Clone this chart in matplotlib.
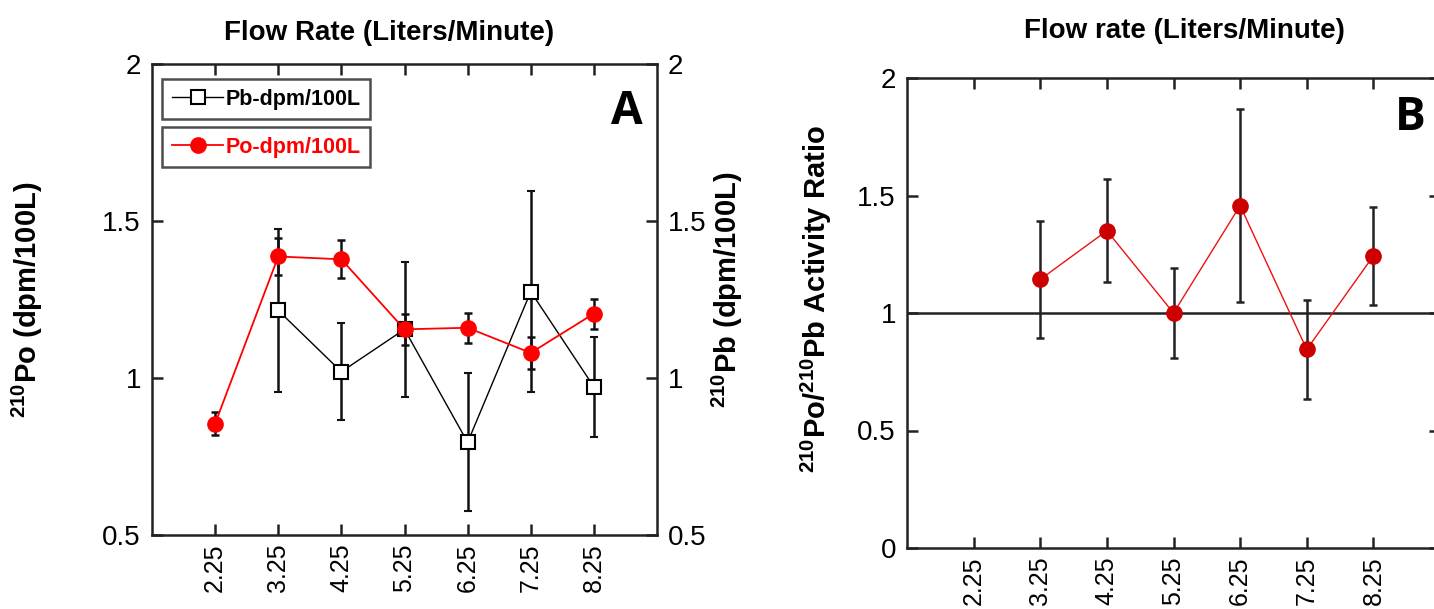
import matplotlib
matplotlib.use("Agg")
import matplotlib.pyplot as plt
from matplotlib.lines import Line2D
from matplotlib.ticker import FixedLocator

# flow rate categories (L/min)
flow = [2.25, 3.25, 4.25, 5.25, 6.25, 7.25, 8.25]
flow_labels = ["2.25", "3.25", "4.25", "5.25", "6.25", "7.25", "8.25"]

# panel A: 210Pb and 210Po activities (dpm/100L)
pb_flow = [3.25, 4.25, 5.25, 6.25, 7.25, 8.25]
pb_val = [1.215, 1.02, 1.155, 0.795, 1.275, 0.972]
pb_err = [0.26, 0.155, 0.215, 0.22, 0.32, 0.16]

po_flow = [2.25, 3.25, 4.25, 5.25, 6.25, 7.25, 8.25]
po_val = [0.855, 1.387, 1.378, 1.155, 1.16, 1.08, 1.205]
po_err = [0.038, 0.058, 0.06, 0.05, 0.048, 0.05, 0.048]

# panel B: 210Po/210Pb activity ratio
ratio_flow = [3.25, 4.25, 5.25, 6.25, 7.25, 8.25]
ratio_val = [1.143, 1.35, 1.0, 1.457, 0.845, 1.243]
ratio_err = [0.25, 0.22, 0.19, 0.41, 0.21, 0.21]

NARROW = ["Liberation Sans Narrow", "Liberation Sans", "DejaVu Sans"]
SANS = ["Liberation Sans", "DejaVu Sans"]
plt.rcParams["font.family"] = SANS
plt.rcParams["mathtext.fontset"] = "custom"
plt.rcParams["mathtext.rm"] = "Liberation Sans:bold"
plt.rcParams["mathtext.bf"] = "Liberation Sans:bold"

W, H = 1434, 609
fig = plt.figure(figsize=(W / 100, H / 100), dpi=100)


def px_axes(l, r, t, b):
    return fig.add_axes([l / W, 1 - b / H, (r - l) / W, (b - t) / H])


def style_axes(ax, yticks, ylim, right_labels):
    ax.set_xlim(1.25, 9.25)
    ax.set_ylim(*ylim)
    ax.xaxis.set_major_locator(FixedLocator(flow))
    ax.set_xticklabels(flow_labels, rotation=90, fontsize=18, family=SANS)
    ax.set_yticks(yticks)
    ax.set_yticklabels([f"{v:g}" for v in yticks], fontsize=20, family=NARROW)
    ax.tick_params(direction="in", length=8, width=1.8, top=True, right=True,
                   labelright=right_labels, color="#222222")
    ax.tick_params(axis="x", pad=6)
    ax.tick_params(axis="y", pad=8)
    for s in ax.spines.values():
        s.set_linewidth(1.8)
        s.set_color("#222222")


# ---- panel A ----
axA = px_axes(152, 657, 64, 535)
style_axes(axA, [0.5, 1, 1.5, 2], (0.5, 2), True)
axA.errorbar(pb_flow, pb_val, yerr=pb_err, color="black", lw=1.0,
             ecolor="#111111", elinewidth=1.8, capsize=3, capthick=1.8,
             marker="s", ms=10, mfc="white", mec="black", mew=1.5, zorder=3)
axA.errorbar(po_flow, po_val, yerr=po_err, color="#ff0000", lw=1.3,
             ecolor="#111111", elinewidth=1.8, capsize=3, capthick=1.8,
             marker="o", ms=11, mfc="#ff0000", mec="#ff0000", zorder=4)

axA.set_title("Flow Rate (Liters/Minute)", fontsize=20, fontweight="bold",
              pad=17.5, x=0.47)
axA.set_ylabel(r"$^{210}$Po (dpm/100L)", fontsize=21, fontweight="bold")
axA.yaxis.set_label_coords(-0.212, 0.5)
axA.text(0.94, 0.9, "A", transform=axA.transAxes, fontsize=33,
         fontweight="bold", family=["Open Sans", "DejaVu Sans"],
         ha="center", va="center")
axA.text(1.14, 0.52, r"$^{210}$Pb (dpm/100L)", transform=axA.transAxes,
         fontsize=21, fontweight="bold", rotation=90, ha="center", va="center")

h_pb = Line2D([], [], color="black", lw=1.0, marker="s", ms=10, mfc="white",
              mec="black", mew=1.5)
h_po = Line2D([], [], color="#ff0000", lw=1.3, marker="o", ms=11,
              mfc="#ff0000", mec="#ff0000")
leg_kw = dict(loc="upper left", fancybox=False, handlelength=2.4,
              handletextpad=0.1, borderpad=0.45, borderaxespad=0,
              prop={"size": 15.5, "weight": "bold", "family": SANS})
leg1 = axA.legend([h_pb], ["Pb-dpm/100L"], bbox_to_anchor=(0.02, 0.968),
                  **leg_kw)
leg1.get_frame().set_edgecolor("#222222")
leg1.get_frame().set_linewidth(1.8)
axA.add_artist(leg1)
leg2 = axA.legend([h_po], ["Po-dpm/100L"], bbox_to_anchor=(0.02, 0.866),
                  labelcolor="#ff0000", **leg_kw)
leg2.get_frame().set_edgecolor("#222222")
leg2.get_frame().set_linewidth(1.8)

# ---- panel B ----
axB = px_axes(907, 1440, 78, 548)
style_axes(axB, [0, 0.5, 1, 1.5, 2], (0, 2), False)
axB.axhline(1.0, color="#222222", lw=1.8, zorder=2)
axB.errorbar(ratio_flow, ratio_val, yerr=ratio_err, color="#ee1111", lw=1.0,
             ecolor="#222222", elinewidth=1.8, capsize=3, capthick=1.8,
             marker="o", ms=11, mfc="#cc0000", mec="#cc0000", zorder=4)
axB.set_title("Flow rate (Liters/Minute)", fontsize=20, fontweight="bold",
              pad=28.5, x=0.52)
axB.set_ylabel(r"$^{210}$Po/$^{210}$Pb Activity Ratio", fontsize=21,
               fontweight="bold")
axB.yaxis.set_label_coords(-0.137, 0.53)
axB.text(0.945, 0.917, "B", transform=axB.transAxes, fontsize=33,
         fontweight="bold", family=["Open Sans", "DejaVu Sans"],
         ha="center", va="center")

fig.savefig("out.png", dpi=100, facecolor="white")
